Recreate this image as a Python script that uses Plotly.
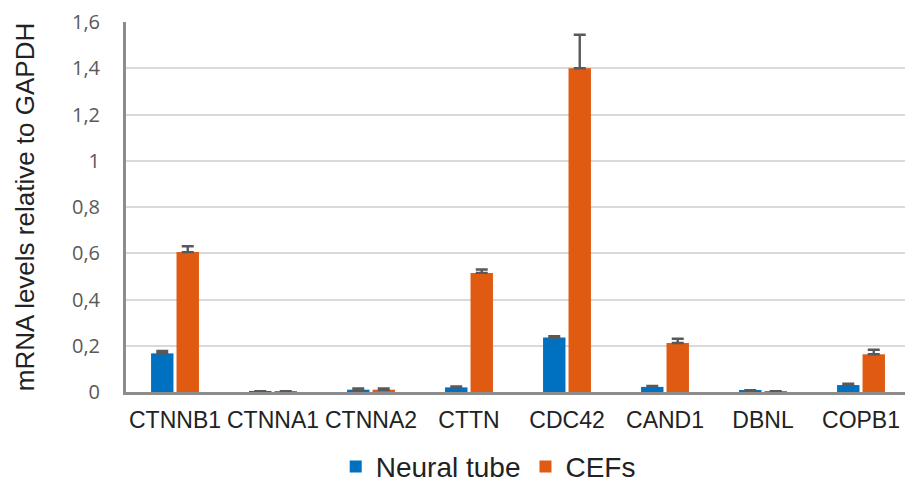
import plotly.graph_objects as go

genes = ["CTNNB1", "CTNNA1", "CTNNA2", "CTTN", "CDC42", "CAND1", "DBNL", "COPB1"]
neural_tube = [0.167, 0.002, 0.010, 0.020, 0.236, 0.022, 0.005, 0.030]
neural_tube_err = [0.010, 0.002, 0.005, 0.004, 0.005, 0.004, 0.003, 0.006]
cefs = [0.605, 0.002, 0.010, 0.515, 1.400, 0.212, 0.001, 0.163]
cefs_err = [0.025, 0.002, 0.005, 0.015, 0.145, 0.018, 0.002, 0.020]
y_ticks = [0, 0.2, 0.4, 0.6, 0.8, 1.0, 1.2, 1.4, 1.6]
y_tick_labels = ["0", "0,2", "0,4", "0,6", "0,8", "1", "1,2", "1,4", "1,6"]

err_style = dict(type="data", symmetric=False, color="#595959", thickness=2.4, width=6)

fig = go.Figure()
fig.add_trace(go.Bar(
    name="Neural tube", x=genes, y=neural_tube,
    marker=dict(color="#0070C0", line=dict(width=0)),
    error_y=dict(array=neural_tube_err, arrayminus=[0] * len(genes), **err_style),
))
fig.add_trace(go.Bar(
    name="CEFs", x=genes, y=cefs,
    marker=dict(color="#E05A12", line=dict(width=0)),
    error_y=dict(array=cefs_err, arrayminus=[0] * len(genes), **err_style),
))

# the page body adds an 8px offset, so the figure is sized to compensate
fig.update_layout(
    width=905, height=475,
    margin=dict(l=118, r=3, t=14, b=91, autoexpand=False),
    plot_bgcolor="white", paper_bgcolor="white",
    barmode="group", bargap=0.48, bargroupgap=0.12,
    font=dict(family="Liberation Sans, Arial", color="#222222"),
    showlegend=True,
    legend=dict(orientation="h", x=0.462, xanchor="center",
                yref="container", y=0.034, yanchor="middle",
                font=dict(size=28, family="Liberation Sans, Arial", color="#222222"),
                itemwidth=30, traceorder="normal"),
)
fig.update_xaxes(
    showline=True, linecolor="#8c8c8c", linewidth=3,
    tickfont=dict(size=23, family="Liberation Sans, Arial", color="#222222"),
    ticks="", showgrid=False, automargin=False, ticklabelstandoff=5,
)
fig.update_yaxes(
    range=[0, 1.6], tickvals=y_ticks, ticktext=y_tick_labels,
    showline=True, linecolor="#8c8c8c", linewidth=3,
    showgrid=True, gridcolor="#d9d9d9", gridwidth=2,
    tickfont=dict(size=20, family="Open Sans, Liberation Sans", color="#595959"),
    ticks="", ticklabelstandoff=19, automargin=False, ticklabeloverflow="allow",
    title=dict(text="mRNA levels relative to GAPDH",
               font=dict(size=26, family="Liberation Sans, Arial", color="#222222"),
               standoff=30),
    zeroline=False,
)

fig.write_html("out.html")
